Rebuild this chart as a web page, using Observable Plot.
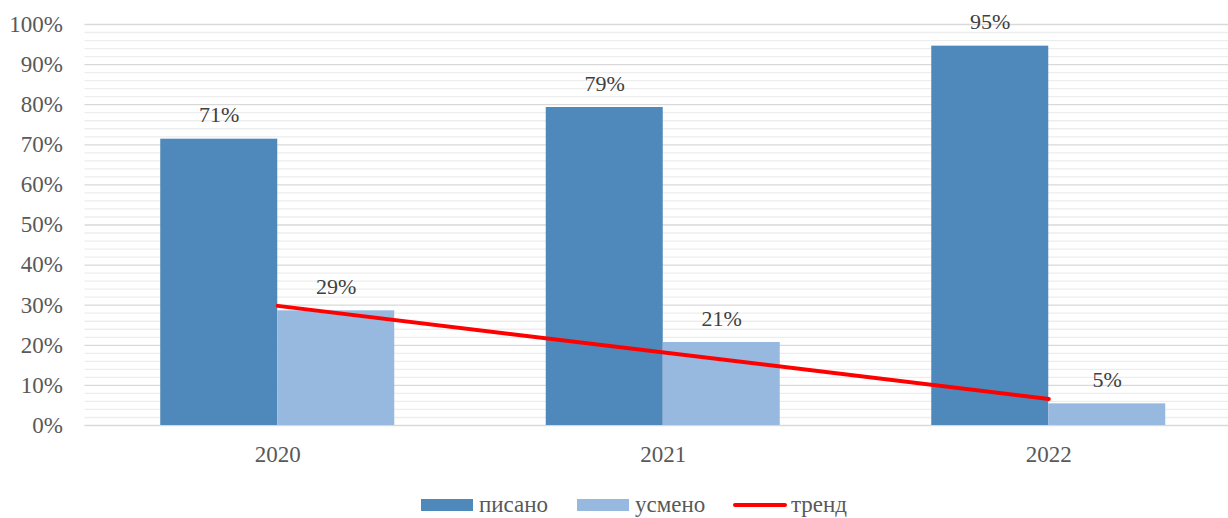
<!DOCTYPE html>
<html>
<head>
<meta charset="utf-8">
<script src="https://cdn.jsdelivr.net/npm/d3@7"></script>
<script src="https://cdn.jsdelivr.net/npm/@observablehq/plot@0.6"></script>
<style>
  html, body { margin: 0; padding: 0; background: #fff; }
  #chart { width: 1228px; overflow: hidden; }
  #chart svg, #chart svg text { font-family: 'Liberation Serif', 'Times New Roman', serif !important; }
  #legend { position: relative; height: 38px; width: 1228px; font-family: 'Liberation Serif', 'Times New Roman', serif; font-size: 23px; color: #595959; }
  .item { position: absolute; top: 0; height: 38px; display: flex; align-items: center; }
  .sw { width: 52px; height: 12px; margin-right: 6px; margin-top: 12px; }
  .ln { width: 54px; height: 4px; background: #ff0000; margin-right: 4px; margin-top: 12px; border-radius: 2px; }
  .lbl { margin-top: 12px; }
</style>
</head>
<body>
<div id="chart"></div>
<div id="legend"></div>
<script>
// ---- data ----
const years = [2020, 2021, 2022];
const pisano = [71.4, 79.3, 94.6];   // писано (%)
const usmeno = [28.6, 20.7, 5.4];    // усмено (%)
const seriesNames = ["писано", "усмено", "тренд"];
const seriesColors = ["#4f88bb", "#97b8df", "#ff0000"];
const yMajorTicks = [0, 10, 20, 30, 40, 50, 60, 70, 80, 90, 100];
const yMinorTicks = d3.range(0, 101, 2).filter(v => v % 10 !== 0);

// ---- tables ----
const rowsP = years.map((yr, i) => ({year: yr, series: seriesNames[0], value: pisano[i]}));
const rowsU = years.map((yr, i) => ({year: yr, series: seriesNames[1], value: usmeno[i]}));

const halfW = 0.3035; // bar width in years
const font = "'Liberation Serif', 'Times New Roman', serif";

const chart = Plot.plot({
  width: 1228,
  height: 480,
  marginLeft: 84.5,
  marginRight: 0,
  marginTop: 24,
  marginBottom: 55,
  style: {fontFamily: font, fontSize: "23px", background: "#fff"},
  x: {type: "linear", domain: [2019.5, 2022.5], range: [84.5, 1241], axis: null, label: null},
  y: {domain: [0, 100], axis: null, label: null},
  marks: [
    Plot.ruleY(yMinorTicks, {stroke: "#ededed", strokeWidth: 1.3}),
    Plot.ruleY(yMajorTicks, {stroke: "#d9d9d9", strokeWidth: 1.3}),
    Plot.axisY({ticks: yMajorTicks, tickFormat: d => d + "%", tickSize: 0, tickPadding: 22, fontSize: 23, fill: "#595959", label: null}),
    Plot.axisX({ticks: years, tickFormat: d => String(d), tickSize: 0, tickPadding: 20, fontSize: 23, fill: "#595959", label: null}),
    Plot.rectY(rowsP, {x1: d => d.year - halfW, x2: d => d.year, y: "value", fill: seriesColors[0]}),
    Plot.rectY(rowsU, {x1: d => d.year, x2: d => d.year + halfW, y: "value", fill: seriesColors[1]}),
    Plot.linearRegressionY(rowsU, {x: "year", y: "value", stroke: seriesColors[2], strokeWidth: 4, ci: 0}),
    Plot.text(rowsP, {x: d => d.year - halfW / 2, y: "value", text: d => Math.round(d.value) + "%", dy: -24, fontSize: 22, fill: "#404040"}),
    Plot.text(rowsU, {x: d => d.year + halfW / 2, y: "value", text: d => Math.round(d.value) + "%", dy: -24, fontSize: 22, fill: "#404040"})
  ]
});
document.getElementById("chart").appendChild(chart);

// ---- legend ----
const legendPos = [421, 577, 733];
const legend = document.getElementById("legend");
seriesNames.forEach((name, i) => {
  const item = document.createElement("div");
  item.className = "item";
  item.style.left = legendPos[i] + "px";
  const mark = document.createElement("div");
  if (i < 2) { mark.className = "sw"; mark.style.background = seriesColors[i]; }
  else { mark.className = "ln"; }
  const lbl = document.createElement("span");
  lbl.className = "lbl";
  lbl.textContent = name;
  item.appendChild(mark);
  item.appendChild(lbl);
  legend.appendChild(item);
});
</script>
</body>
</html>
